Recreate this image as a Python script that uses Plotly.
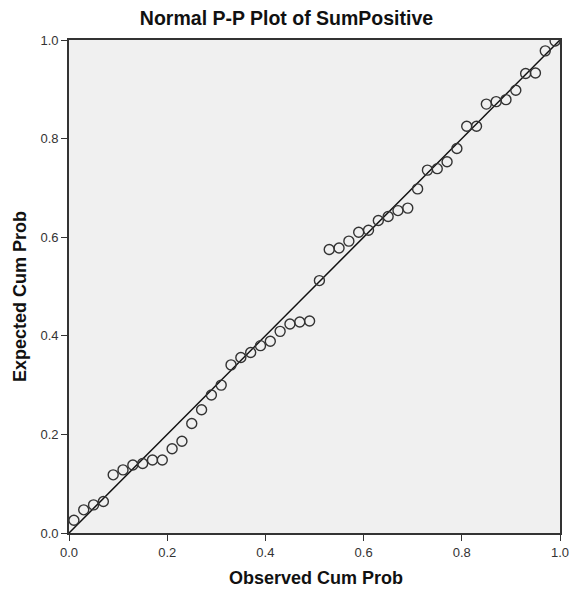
import plotly.graph_objects as go

observed = [(i + 0.5) / 50 for i in range(50)]
expected = [0.026, 0.047, 0.057, 0.064, 0.118, 0.128, 0.138, 0.141, 0.148, 0.148,
            0.171, 0.186, 0.222, 0.250, 0.280, 0.300, 0.341, 0.356, 0.366, 0.380,
            0.389, 0.409, 0.424, 0.428, 0.430, 0.512, 0.575, 0.578, 0.592, 0.610,
            0.614, 0.634, 0.642, 0.654, 0.659, 0.698, 0.736, 0.739, 0.753, 0.780,
            0.825, 0.825, 0.870, 0.875, 0.879, 0.898, 0.932, 0.933, 0.978, 0.998]
ref_line = [0.0, 1.0]
tick_vals = [0.0, 0.2, 0.4, 0.6, 0.8, 1.0]
tick_text = ["0.0", "0.2", "0.4", "0.6", "0.8", "1.0"]

FONT = "Liberation Sans, Arial"
W, H = 573, 589
L, R, T, B = 69, 13, 40, 56
PW, PH = W - L - R, H - T - B

fig = go.Figure()
fig.add_trace(go.Scatter(x=ref_line, y=ref_line, mode="lines",
                         line=dict(color="#111111", width=1.5), hoverinfo="skip"))
fig.add_trace(go.Scatter(x=observed, y=expected, mode="markers",
                         marker=dict(symbol="circle-open", size=10,
                                     color="#333333", line=dict(width=1.4))))

axis_common = dict(range=[0, 1], tickvals=tick_vals, ticktext=tick_text,
                   automargin=False,
                   showgrid=False, zeroline=False, ticks="outside", ticklen=6,
                   tickcolor="#333333", tickwidth=1.2, showline=True, linecolor="#333333",
                   linewidth=1.8, mirror=True,
                   tickfont=dict(family=FONT, size=13, color="#333333"))

fig.update_layout(
    width=W, height=H,
    margin=dict(l=L, r=R, t=T, b=B),
    paper_bgcolor="white", plot_bgcolor="#f0f0f0",
    showlegend=False,
    title=dict(text="<b>Normal P-P Plot of SumPositive</b>", x=0.5, xanchor="center",
               y=1 - 18 / H, yanchor="middle", automargin=False,
               font=dict(family=FONT, size=19.5, color="#111111")),
    xaxis=axis_common,
    yaxis=axis_common,
    annotations=[
        dict(text="<b>Observed Cum Prob</b>", xref="paper", yref="paper",
             x=(316 - L) / PW, y=(H - B - 578) / PH, xanchor="center", yanchor="middle",
             showarrow=False, font=dict(family=FONT, size=18, color="#111111")),
        dict(text="<b>Expected Cum Prob</b>", xref="paper", yref="paper",
             x=(20 - L) / PW, y=(H - B - 297) / PH, xanchor="center", yanchor="middle",
             textangle=-90, showarrow=False,
             font=dict(family=FONT, size=18, color="#111111")),
    ],
)

fig.write_html("out.html")
